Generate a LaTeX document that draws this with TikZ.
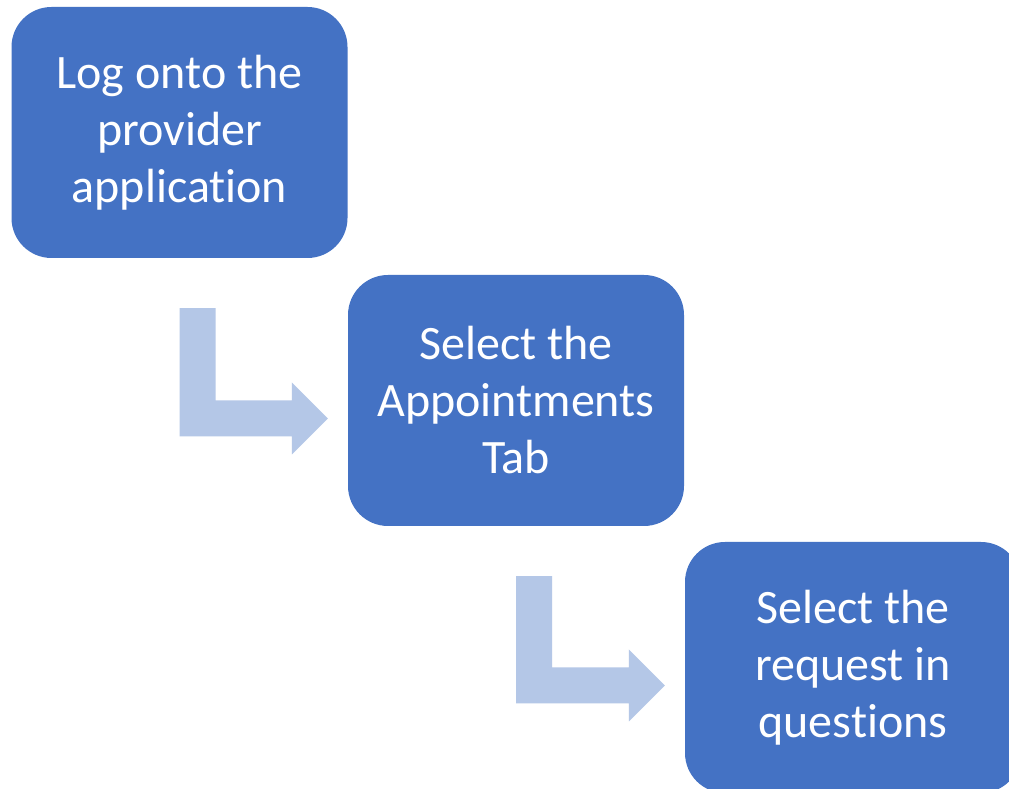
\documentclass[tikz,border=0pt]{standalone}
\usepackage{fontspec}
\setmainfont{Carlito}[Ligatures=NoCommon]
\usetikzlibrary{calc}

\definecolor{boxblue}{HTML}{4472C4}
\definecolor{arrowblue}{HTML}{B4C7E7}

\tikzset{
  stepbox/.style={rectangle,rounded corners=40pt,fill=boxblue,draw=none,
    minimum width=336pt,minimum height=251pt,inner sep=0pt,align=center,
    text=white,font=\fontsize{48}{57}\selectfont},
  bendarrow/.style={fill=arrowblue,draw=none}
}

\begin{document}
\begin{tikzpicture}[x=1pt,y=1pt]
        \clip (0,0) rectangle (1009,789);
        \fill[white] (0,0) rectangle (1009,789);

        \node[stepbox] (log) at (179.5,656.5) {Log onto the\\provider\\application};
        \node[stepbox] (appt) at (516,388.5) {Select the\\Appointments\\Tab};
        \node[stepbox] (req) at (853,121.5) {Select the\\request in\\questions};

        % bent arrows between the steps
        \foreach \a/\b in {log/appt,appt/req}
          \fill[bendarrow] ($(\a.south)+(0,-50pt)$) coordinate (s) -- ++(36pt,0)
            |- ($(\b.west)+(-56pt,0)$) -- ++(0,18pt) -- ($(\b.west)+(-20pt,-18pt)$)
            -- ++(-36pt,-36pt) -- ++(0,18pt) -| (s);
      \end{tikzpicture}
\end{document}
